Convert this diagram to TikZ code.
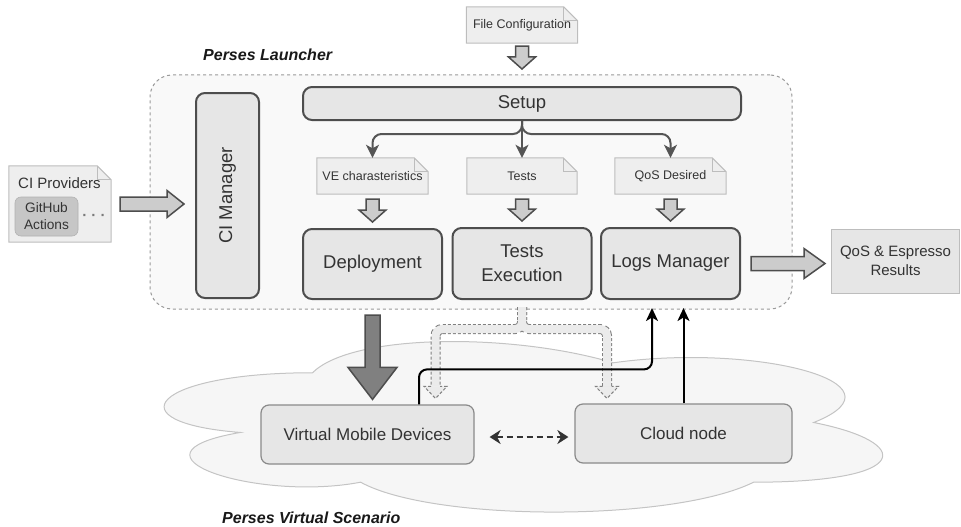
\documentclass[tikz,border=0pt]{standalone}
\usepackage{fontspec}
\setmainfont{Liberation Sans}
\usetikzlibrary{calc,arrows.meta}
\definecolor{boxfill}{HTML}{E6E6E6}
\definecolor{boxline}{HTML}{4D4D4D}
\definecolor{notefill}{HTML}{EEEEEE}
\definecolor{noteline}{HTML}{BDBDBD}
\definecolor{txt}{HTML}{333333}
\definecolor{contfill}{HTML}{F9F9F9}
\definecolor{contline}{HTML}{9A9A9A}
\definecolor{arrfill}{HTML}{CCCCCC}
\definecolor{darkarr}{HTML}{808080}
\definecolor{cloudfill}{HTML}{F6F6F6}
\definecolor{cloudline}{HTML}{C4C4C4}
\definecolor{ghfill}{HTML}{C6C6C6}
\definecolor{vline}{HTML}{8A8A8A}
\definecolor{flexline}{HTML}{808080}
\definecolor{flexfill}{HTML}{EBEBEB}
\definecolor{setarr}{HTML}{555555}
\definecolor{dotcol}{HTML}{7A7A7A}

\newcommand{\mknote}[5]{%
  \node[minimum width=#3, minimum height=#4, inner sep=0pt] (#1) at (#2) {};
  \filldraw[notestyle] (#1.north west) -- ($(#1.north east)+(-14,0)$) -- ($(#1.north east)+(0,14)$) -- (#1.south east) -- (#1.south west) -- cycle;
  \draw[notestyle, fill=none] ($(#1.north east)+(-14,0)$) -- ($(#1.north east)+(-14,14)$) -- ($(#1.north east)+(0,14)$);
  \node[notetxt] (#1-t) at (#1.center) {#5};
}
\newcommand{\blockarrow}[6]{%
  \coordinate (ba-hb) at ($(#3)!#6!(#2)$);
  \draw[#1] ($(#2)!#4!-90:(#3)$) -- ($(ba-hb)!#4!-90:(#3)$) -- ($(ba-hb)!#5!-90:(#3)$) -- (#3) -- ($(ba-hb)!#5!90:(#3)$) -- ($(ba-hb)!#4!90:(#3)$) -- ($(#2)!#4!90:(#3)$) -- cycle;
}

\begin{document}
\begin{tikzpicture}[x=1pt,y=-1pt,
  proc/.style={draw=boxline, line width=2pt, fill=boxfill, rounded corners=9pt, text=txt,
    font=\fontsize{18.5}{24}\selectfont, align=center, inner sep=0pt},
  container/.style={draw=contline, line width=1pt, dash pattern=on 3pt off 3pt, fill=contfill,
    rounded corners=22pt, minimum width=642pt, minimum height=234pt, inner sep=0pt},
  notestyle/.style={draw=noteline, fill=notefill, line width=1pt, line join=miter},
  notetxt/.style={text=txt, font=\fontsize{12.5}{15}\selectfont, inner sep=0pt},
  lbl/.style={text=black!90, font=\fontsize{16}{19}\selectfont\bfseries\itshape, inner sep=0pt},
  gh/.style={fill=ghfill, draw=ghfill!90!black, line width=0.6pt, rounded corners=6pt, text=txt,
    font=\fontsize{13.7}{17}\selectfont, align=center, minimum width=63pt, minimum height=39pt, inner sep=0pt},
  res/.style={fill=boxfill, draw=noteline, line width=1pt, text=txt, font=\fontsize{15}{19}\selectfont,
    align=center, minimum width=128pt, minimum height=64pt, inner sep=0pt},
  vbox/.style={fill=boxfill, draw=vline, line width=1.2pt, rounded corners=8pt, text=txt,
    font=\fontsize{17}{20}\selectfont, minimum height=59pt, inner sep=0pt},
  blk/.style={draw=boxline, fill=arrfill, line width=1.5pt, line join=miter},
  darkblk/.style={draw=boxline, fill=darkarr, line width=1.5pt, line join=miter},
  sarrow/.style={draw=setarr, line width=2pt, -{Stealth[length=13pt, width=13pt, inset=3.5pt]}},
  blackarr/.style={draw=black, line width=2pt, -{Stealth[length=13pt, width=12pt, inset=3.5pt]}},
  dasharr/.style={draw=txt, line width=2.2pt, dash pattern=on 6pt off 4pt,
    {Stealth[length=11pt, width=14pt, inset=3.5pt]}-{Stealth[length=11pt, width=14pt, inset=3.5pt]}},
  flexout/.style={draw=flexline, line width=10pt, dash pattern=on 3pt off 2pt, rounded corners=7pt},
  flexin/.style={draw=flexfill, line width=8pt, rounded corners=7pt},
  flexhead/.style={draw=flexline, line width=1pt, dash pattern=on 3pt off 2pt, line join=miter}
]
\useasboundingbox (0,0) rectangle (961,527);

% cloud (Perses Virtual Scenario)
\begin{scope}[shift={(112,323)}, x=802pt, y=-199pt]
\draw[draw=cloudline, fill=cloudfill, line width=1pt]
  (0.25,0.25) .. controls (0.05,0.25) and (0,0.5) .. (0.16,0.55)
  .. controls (0,0.66) and (0.18,0.9) .. (0.31,0.8)
  .. controls (0.4,1) and (0.7,1) .. (0.8,0.8)
  .. controls (1,0.8) and (1,0.6) .. (0.875,0.5)
  .. controls (1,0.3) and (0.8,0.1) .. (0.625,0.2)
  .. controls (0.5,0.05) and (0.3,0.05) .. (0.25,0.25) -- cycle;
\end{scope}

% launcher container
\node[container] (launcher) at (471,192) {};
\node[lbl, anchor=west] (lbl1) at (203,55) {Perses Launcher};

% process boxes
\node[proc, rotate=90, minimum width=205pt, minimum height=63pt] (cim) at (227.5,195.5) {CI Manager};
\node[proc, minimum width=438pt, minimum height=33pt] (setup) at (522,103.5) {Setup};
\node[proc, minimum width=139pt, minimum height=70pt] (dep) at (372.5,264) {Deployment};
\node[proc, minimum width=139pt, minimum height=71pt] (tex) at (522,263.5) {Tests\\Execution};
\node[proc, minimum width=139pt, minimum height=71pt] (logs) at (670.5,263.5) {Logs Manager};

% notes
\mknote{filecfg}{522,25}{111pt}{36pt}{File Configuration}
\mknote{venote}{372.5,176}{111pt}{36pt}{VE charasteristics}
\mknote{tnote}{522,176}{110pt}{36pt}{Tests}
\mknote{qnote}{670.5,176}{111pt}{36pt}{QoS Desired}
\mknote{ciprov}{60,204}{102pt}{76pt}{}
\node[anchor=west, text=txt, font=\fontsize{15}{18}\selectfont, inner sep=0pt] (ciprovt) at (18,183) {CI Providers};
\node[gh] (gha) at (46.5,216.5) {GitHub\\Actions};
\node[text=dotcol, font=\fontsize{15}{16}\selectfont\bfseries, inner sep=0pt] (dots) at (94,217) {· · ·};

% results
\node[res] (qosres) at (895.5,261) {QoS \& Espresso\\Results};

% scenario boxes
\node[vbox, minimum width=213pt] (vmd) at (367.5,434.5) {Virtual Mobile Devices};
\node[vbox, minimum width=217pt] (cloudn) at (683.5,433.5) {Cloud node};
\node[lbl, anchor=west] (lbl2) at (222,518) {Perses Virtual Scenario};

% setup fan-out arrows
\draw[sarrow] (setup.south) -- (tnote.north);
\draw[sarrow, rounded corners=9pt] (setup.south) -- ($(setup.south)+(0,13)$) -| (venote.north);
\draw[sarrow, rounded corners=9pt] (setup.south) -- ($(setup.south)+(0,13)$) -| (qnote.north);

% block arrows
\coordinate (a1s) at ($(filecfg.south)+(0,3)$);
\coordinate (a1e) at ($(setup.north)+(0,-17)$);
\blockarrow{blk}{a1s}{a1e}{6.5pt}{13.5pt}{12pt}
\coordinate (a2s) at ($(venote.south)+(0,5)$);
\coordinate (a2e) at ($(dep.north)+(0,-6)$);
\blockarrow{blk}{a2s}{a2e}{6.5pt}{13.5pt}{12pt}
\coordinate (a3s) at ($(tnote.south)+(0,5)$);
\coordinate (a3e) at ($(tex.north)+(0,-6)$);
\blockarrow{blk}{a3s}{a3e}{6.5pt}{13.5pt}{12pt}
\coordinate (a4s) at ($(qnote.south)+(0,5)$);
\coordinate (a4e) at ($(logs.north)+(0,-6)$);
\blockarrow{blk}{a4s}{a4e}{6.5pt}{13.5pt}{12pt}
\coordinate (a5s) at ($(ciprov.east)+(9,0)$);
\coordinate (a5e) at ($(ciprov.east -| cim.center)+(-43.5,0)$);
\blockarrow{blk}{a5s}{a5e}{7pt}{13.5pt}{17pt}
\coordinate (a6s) at ($(logs.east)+(10,0)$);
\coordinate (a6e) at ($(logs.east -| qosres.west)+(-6,0)$);
\blockarrow{blk}{a6s}{a6e}{7pt}{15pt}{21pt}
\coordinate (a7s) at ($(dep.south)+(0,15)$);
\coordinate (a7e) at ($(dep.south |- vmd.north)+(0,-5)$);
\blockarrow{darkblk}{a7s}{a7e}{7.5pt}{24.5pt}{32pt}

% dashed flex arrow from Tests Execution
\coordinate (fs) at ($(tex.south)+(0,7)$);
\coordinate (fl) at ($(vmd.north)+(68,-18)$);
\coordinate (fr) at ($(cloudn.north)+(-76.5,-17)$);
\draw[flexout] (fs) -- ($(fs)+(0,22)$) -| (fl);
\draw[flexout] (fs) -- ($(fs)+(0,22)$) -| (fr);
\draw[flexin] (fs) -- ($(fs)+(0,22)$) -| (fl);
\draw[flexin] (fs) -- ($(fs)+(0,22)$) -| (fr);
\foreach \h in {fl,fr}{
  \fill[flexfill] ($(\h)+(-11.5,0)$) -- ($(\h)+(11.5,0)$) -- ($(\h)+(0,12)$) -- cycle;
  \draw[flexhead] ($(\h)+(-4.5,0)$) -- ($(\h)+(-11.5,0)$) -- ($(\h)+(0,12)$) -- ($(\h)+(11.5,0)$) -- ($(\h)+(4.5,0)$);
}

% black arrows to Logs Manager
\coordinate (bs) at ($(vmd.north)+(51.5,0)$);
\coordinate (bt) at ($(logs.south)+(-18.5,8)$);
\draw[blackarr, rounded corners=8pt] (bs) -- ($(bs)+(0,-35)$) -| (bt);
\draw[blackarr] (cloudn.north) -- ($(cloudn.north |- logs.south)+(0,8)$);

% dashed double arrow
\draw[dasharr] ($(vmd.east)+(15,2.5)$) -- ($(cloudn.west)+(-6,3.5)$);
\end{tikzpicture}
\end{document}
